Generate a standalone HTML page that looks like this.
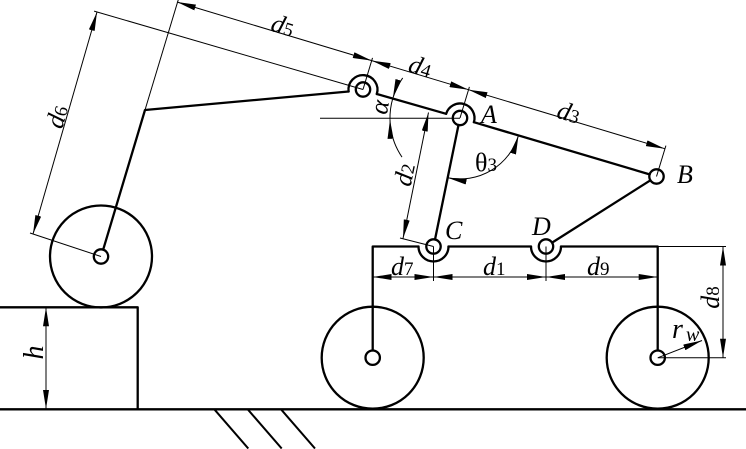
<!DOCTYPE html>
<html>
<head>
<meta charset="utf-8">
<style>
html,body{margin:0;padding:0;background:#fff;}
svg{display:block;}
.t{font-family:"Liberation Serif","DejaVu Serif",serif;font-style:italic;font-size:26px;fill:#000;}
.s{font-style:normal;font-size:19px;}
.k{fill:none;stroke:#000;stroke-width:2.3;stroke-linecap:round;stroke-linejoin:round;}
.n{fill:none;stroke:#000;stroke-width:1;}
.h{fill:none;stroke:#000;stroke-width:2;}
</style>
</head>
<body>
<svg width="746" height="449" viewBox="0 0 746 449" xmlns="http://www.w3.org/2000/svg">
<defs>
<marker id="ar" viewBox="0 0 19 6" refX="19" refY="3" markerWidth="19" markerHeight="6" markerUnits="userSpaceOnUse" orient="auto-start-reverse">
<path d="M0,0 L19,3 L0,6 z" fill="#000"/>
</marker>
</defs>
<rect width="746" height="449" fill="#fff"/>

<!-- ground, block, hatch -->
<path class="k" d="M0,409.3 H746"/>
<path class="k" d="M0,307.3 H137.7 V409"/>
<path class="h" d="M214.3,409.3 L248.3,448.5 M247.7,409.3 L281.7,448.5 M281,409.3 L315,448.5"/>

<!-- left wheel -->
<circle class="k" cx="101" cy="256.5" r="51"/>
<circle class="k" cx="101" cy="256.5" r="7.2"/>

<!-- cart wheels -->
<circle class="k" cx="372.7" cy="357.7" r="51"/>
<circle class="k" cx="372.7" cy="357.7" r="7.2"/>
<circle class="k" cx="657.7" cy="357.7" r="51"/>
<circle class="k" cx="657.7" cy="357.7" r="7.2"/>

<!-- platform -->
<path class="k" d="M372.7,350.5 V246.5 H418.5"/>
<path class="k" d="M448.5,246.5 H531"/>
<path class="k" d="M561,246.5 H657.7 V350.5"/>
<path class="k" d="M418.5,246.5 A15,15 0 0 0 448.5,246.5"/>
<path class="k" d="M531,246.5 A15,15 0 0 0 561,246.5"/>
<circle class="k" cx="433.5" cy="246.5" r="7.2"/>
<circle class="k" cx="546" cy="246.5" r="7.2"/>

<!-- arm links -->
<path class="k" d="M103.2,249.6 L145,110 L348.6,91.5"/>
<path class="k" d="M348.6,91.5 A14.5,14.5 0 1 1 376.8,94"/>
<circle class="k" cx="363" cy="89.5" r="7.2"/>
<path class="k" d="M376.8,94 L446.1,113.8"/>
<path class="k" d="M446.1,113.8 A14.5,14.5 0 0 1 473.9,122.2"/>
<circle class="k" cx="460" cy="118" r="7.2"/>
<path class="k" d="M473.9,122.2 L649.6,174.4"/>
<circle class="k" cx="656.5" cy="176.5" r="7.2"/>
<path class="k" d="M458.5,125 L435,239.5"/>
<path class="k" d="M552.1,242.6 L650.4,180.3"/>

<!-- thin extension lines -->
<path class="n" d="M320,118.3 H460"/>
<path class="n" d="M145,110 L178.5,-1"/>
<path class="n" d="M94.1,11.1 L363,89.5"/>
<path class="n" d="M30,233 L101,256.5"/>
<path class="n" d="M363,89.5 L372.5,57.9"/>
<path class="n" d="M460,118 L469.4,86.9"/>
<path class="n" d="M656.5,176.5 L665.9,145.6"/>
<path class="n" d="M400,238 L433.5,246.5"/>
<path class="n" d="M433.5,246.5 V281 M546,246.5 V281"/>
<path class="n" d="M657.7,246.5 H726 M657.7,357.7 H726"/>

<!-- dimension lines -->
<path class="n" d="M177,2 L371.7,60.6" marker-start="url(#ar)" marker-end="url(#ar)"/>
<path class="n" d="M371.7,60.6 L468.5,89.7" marker-start="url(#ar)" marker-end="url(#ar)"/>
<path class="n" d="M468.5,89.7 L664.8,148.7" marker-start="url(#ar)" marker-end="url(#ar)"/>
<path class="n" d="M97,12 L33,234" marker-start="url(#ar)" marker-end="url(#ar)"/>
<path class="n" d="M428.5,112.5 L403,238.5" marker-start="url(#ar)" marker-end="url(#ar)"/>
<path class="n" d="M372.7,277 H433.5" marker-start="url(#ar)" marker-end="url(#ar)"/>
<path class="n" d="M433.5,277 H546" marker-start="url(#ar)" marker-end="url(#ar)"/>
<path class="n" d="M546,277 H657.7" marker-start="url(#ar)" marker-end="url(#ar)"/>
<path class="n" d="M723,246.5 V357.7" marker-start="url(#ar)" marker-end="url(#ar)"/>
<path class="n" d="M46,307.3 V409" marker-start="url(#ar)" marker-end="url(#ar)"/>
<path class="n" d="M658,357.7 L702,340.5" marker-end="url(#ar)"/>

<!-- angle arcs -->
<path class="n" d="M447.7,177.7 A61,61 0 0 0 518.5,135.4" marker-start="url(#ar)" marker-end="url(#ar)"/>
<path class="n" d="M402.7,77.9 A70,70 0 0 0 392.9,98" marker-end="url(#ar)"/>
<path class="n" d="M392.9,98 A70,70 0 0 0 390,119.8"/>
<path class="n" d="M402,157.1 A70,70 0 0 1 390,119.8" marker-end="url(#ar)"/>

<!-- labels -->
<text class="t" text-anchor="middle" transform="translate(283,25) rotate(16.75)" y="9">d<tspan class="s">5</tspan></text>
<text class="t" text-anchor="middle" transform="translate(420.5,66) rotate(16.75)" y="9">d<tspan class="s">4</tspan></text>
<text class="t" text-anchor="middle" transform="translate(569,112) rotate(16.75)" y="9">d<tspan class="s">3</tspan></text>
<text class="t" text-anchor="middle" transform="translate(56.5,116.5) rotate(-73.9)" y="9">d<tspan class="s">6</tspan></text>
<text class="t" text-anchor="middle" transform="translate(404,174.5) rotate(-78.3)" y="9">d<tspan class="s">2</tspan></text>
<text class="t" text-anchor="middle" transform="translate(382,107.5) rotate(-80)" y="6">α</text>
<text class="t" text-anchor="middle" x="486" y="171" style="font-style:normal">θ<tspan class="s">3</tspan></text>
<text class="t" x="481" y="123">A</text>
<text class="t" x="677" y="183">B</text>
<text class="t" x="445" y="239">C</text>
<text class="t" x="532" y="235">D</text>
<text class="t" x="391" y="275">d<tspan class="s">7</tspan></text>
<text class="t" x="483" y="275">d<tspan class="s">1</tspan></text>
<text class="t" x="587" y="275">d<tspan class="s">9</tspan></text>
<text class="t" text-anchor="middle" transform="translate(710,297.5) rotate(-90)" y="9">d<tspan class="s">8</tspan></text>
<text class="t" x="672" y="338" style="font-size:28px">r</text>
<text class="t" x="686" y="341" style="font-size:20px">w</text>
<text class="t" text-anchor="middle" transform="translate(34,352.5) rotate(-90)" y="9" style="font-size:28px">h</text>
</svg>
</body>
</html>
